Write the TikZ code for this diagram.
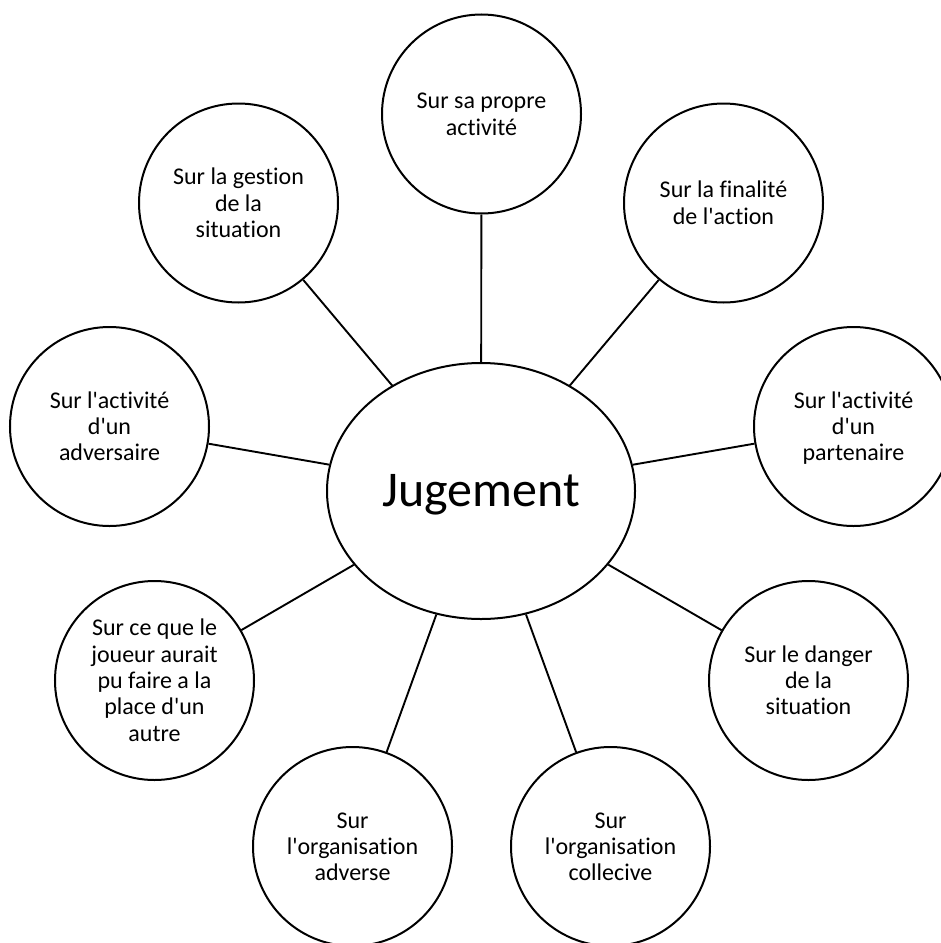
\documentclass[tikz,border=0pt]{standalone}
\usepackage{fontspec}
\setmainfont{Carlito}[Ligatures={TeXOff,CommonOff,ContextualOff}]
\usetikzlibrary{shapes.geometric}
\newcommand\fstrut{\rule{0pt}{24bp}}
\newcommand\lstrut{\rule[-8bp]{0pt}{8bp}}
\tikzset{
  bubble/.style={circle, draw, line width=2bp, minimum size=199bp, inner sep=0pt,
    align=center, font=\fontsize{24bp}{26.3bp}\selectfont},
  hub/.style={ellipse, draw, line width=2bp, minimum width=308bp, minimum height=256bp,
    inner sep=0pt, text height=32bp, text depth=2bp, font=\fontsize{50bp}{60bp}\selectfont},
  link/.style={line width=1.9bp}
}
\begin{document}
\begin{tikzpicture}[x=1bp,y=-1bp]
\useasboundingbox (0,0) rectangle (941,943);
\clip (0,0) rectangle (941,943);
\node[hub] (J) at (481,491) {Jugement};
\node[bubble] (sa) at (481.5,114) {\fstrut Sur sa propre\\activité\lstrut};
\node[bubble] (ge) at (238.5,203) {\fstrut Sur la gestion\\de la\\situation\lstrut};
\node[bubble] (fi) at (723.5,203) {\fstrut Sur la finalité\\de l'action\lstrut};
\node[bubble] (ad) at (109.5,426.5) {\fstrut Sur l'activité\\d'un\\adversaire\lstrut};
\node[bubble] (pa) at (853.5,426.5) {\fstrut Sur l'activité\\d'un\\partenaire\lstrut};
\node[bubble] (jo) at (154.5,680.5) {\fstrut Sur ce que le\\joueur aurait\\pu faire a la\\place d'un\\autre\lstrut};
\node[bubble] (da) at (808.5,680.5) {\fstrut Sur le danger\\de la\\situation\lstrut};
\node[bubble] (oa) at (352.5,846.5) {\fstrut Sur\\l'organisation\\adverse\lstrut};
\node[bubble] (oc) at (610.5,846.5) {\fstrut Sur\\l'organisation\\collecive\lstrut};
\foreach \n in {sa,ge,fi,ad,pa,jo,da,oa,oc}
  \draw[link] (J) -- (\n);
\end{tikzpicture}
\end{document}
